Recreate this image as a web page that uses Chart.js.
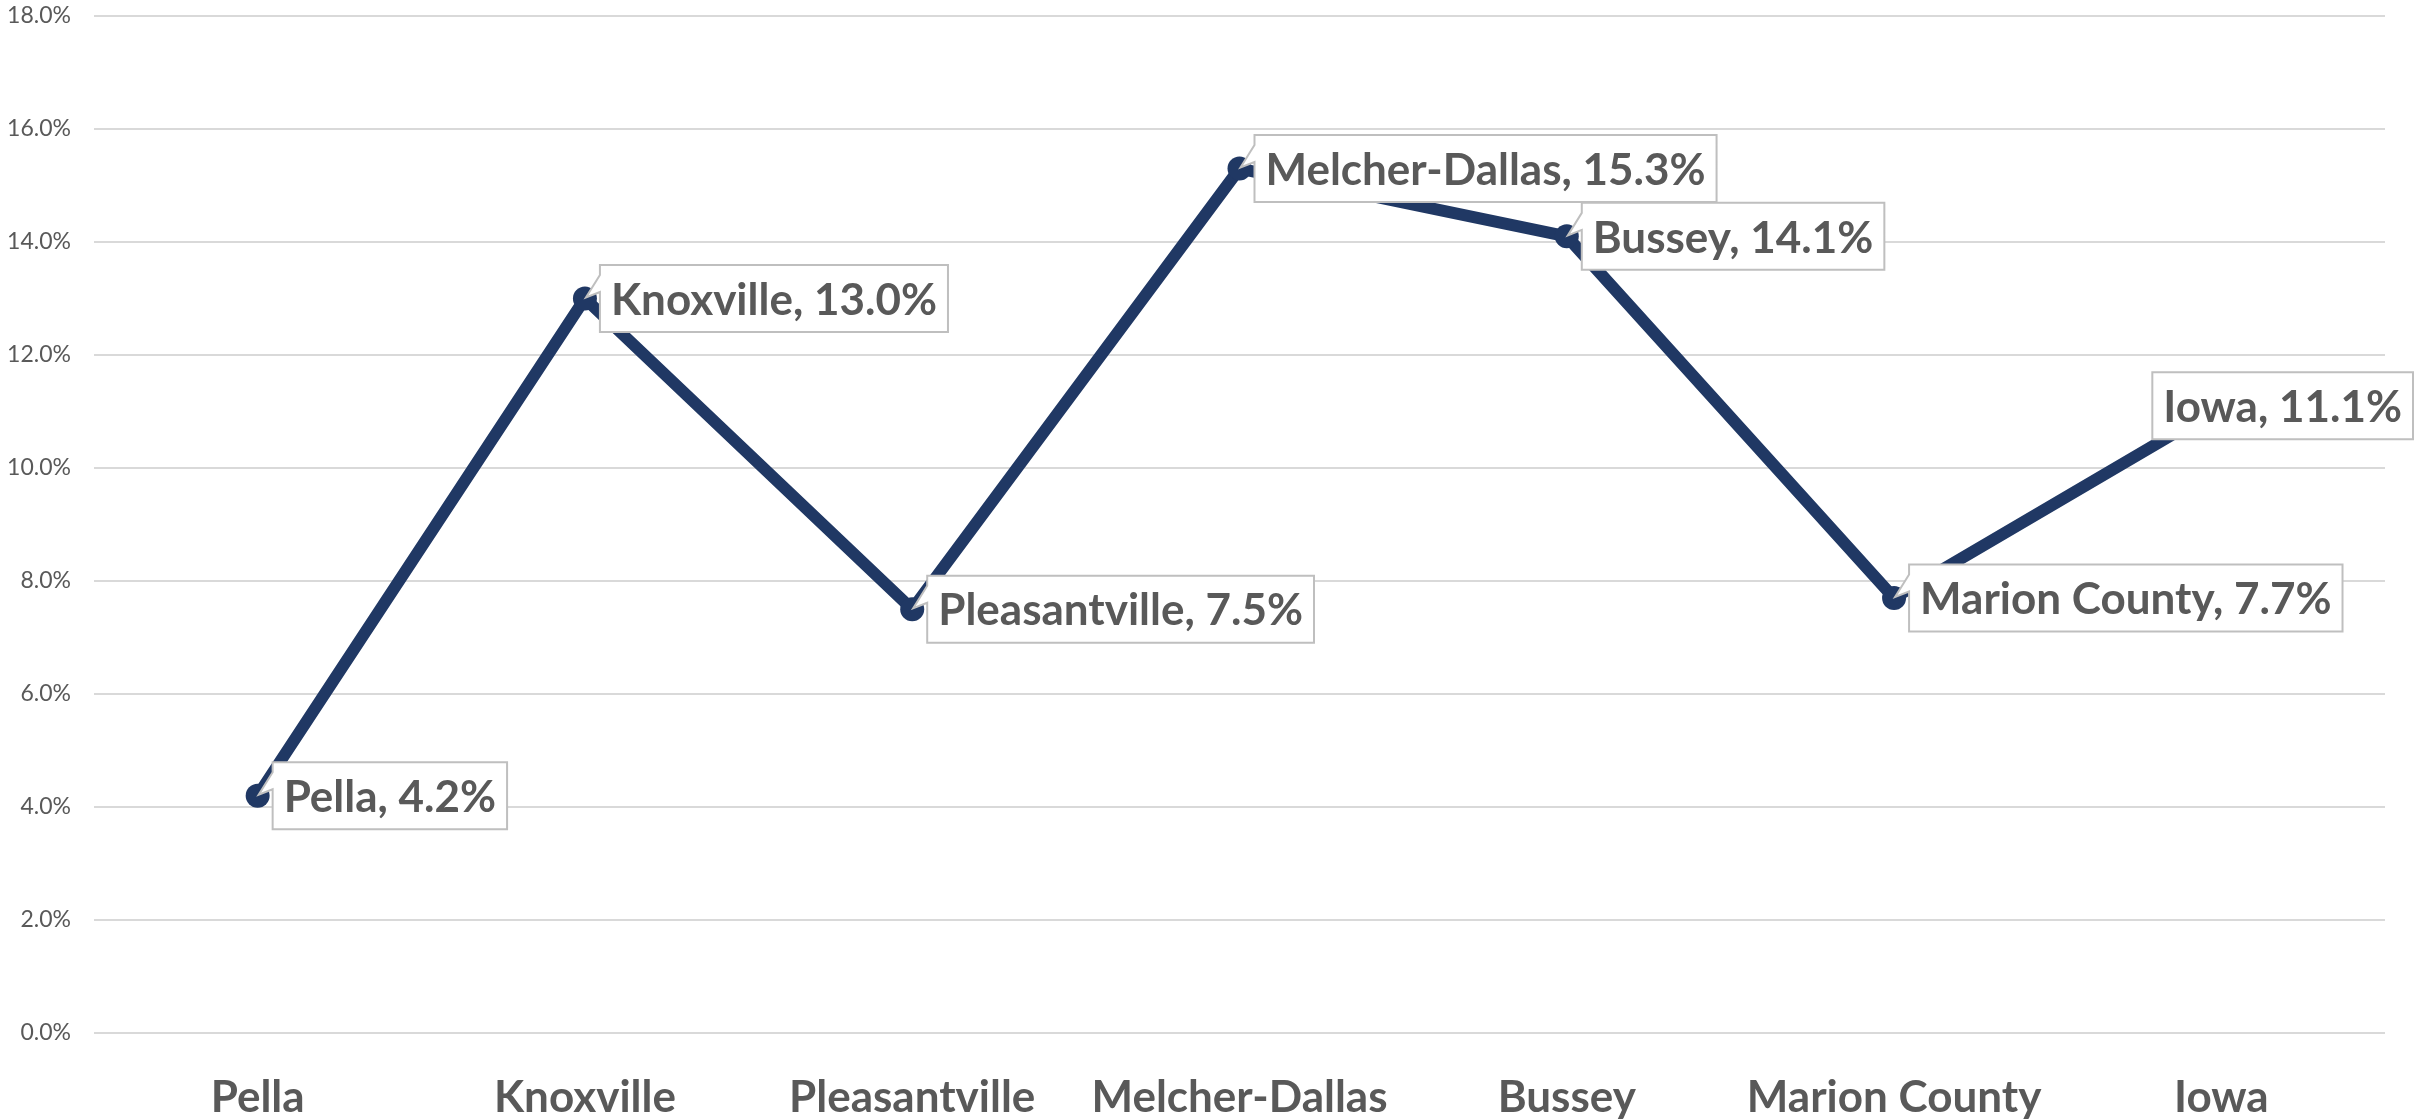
<!DOCTYPE html>
<html>
<head>
<meta charset="utf-8">
<script src="https://cdn.jsdelivr.net/npm/chart.js@4"></script>
<style>
  html, body { margin: 0; padding: 0; background: #fff; }
  #rateChart { display: block; }
</style>
</head>
<body>
<canvas id="rateChart" width="2425" height="1119"></canvas>
<script>
// Rate by place
const places = ['Pella', 'Knoxville', 'Pleasantville', 'Melcher-Dallas', 'Bussey', 'Marion County', 'Iowa'];
const rates = [4.2, 13.0, 7.5, 15.3, 14.1, 7.7, 11.1];
const yTicks = [0, 2, 4, 6, 8, 10, 12, 14, 16, 18];

const navy = '#203864';
const grey = '#595959';
const pct = v => Number(v).toFixed(1) + '%';

// Boxed callout labels "Place, 0.0%" to the right of each point
const calloutLabels = {
  id: 'calloutLabels',
  afterDatasetsDraw(chart) {
    const { ctx } = chart;
    const meta = chart.getDatasetMeta(0);
    const boxH = 67, padX = 11, gap = 15, edge = 12;
    ctx.save();
    ctx.font = 'bold 44px Lato';
    meta.data.forEach((pt, i) => {
      const text = `${places[i]}, ${pct(rates[i])}`;
      const w = ctx.measureText(text).width + padX * 2;
      let x0 = pt.x + gap;
      if (x0 + w > chart.width - edge) x0 = chart.width - edge - w;
      const y0 = pt.y - boxH / 2;

      ctx.beginPath();
      ctx.moveTo(x0, y0);
      ctx.lineTo(x0 + w, y0);
      ctx.lineTo(x0 + w, y0 + boxH);
      ctx.lineTo(x0, y0 + boxH);
      if (x0 > pt.x) {
        ctx.lineTo(x0, y0 + 27);
        ctx.lineTo(pt.x + 1, pt.y - 1);
        ctx.lineTo(x0, y0 + 10);
      }
      ctx.closePath();
      ctx.fillStyle = '#ffffff';
      ctx.fill();
      ctx.lineWidth = 2;
      ctx.strokeStyle = '#bfbfbf';
      ctx.stroke();

      ctx.fillStyle = grey;
      ctx.textAlign = 'left';
      ctx.textBaseline = 'middle';
      ctx.fillText(text, x0 + padX, pt.y + 2);
    });
    ctx.restore();
  }
};

new Chart(document.getElementById('rateChart'), {
  type: 'line',
  data: {
    labels: places,
    datasets: [{
      data: rates,
      borderColor: navy,
      backgroundColor: navy,
      borderWidth: 12,
      borderJoinStyle: 'round',
      borderCapStyle: 'round',
      tension: 0,
      pointRadius: 12,
      pointBorderWidth: 0,
      pointBackgroundColor: navy
    }]
  },
  options: {
    responsive: false,
    devicePixelRatio: 1,
    animation: false,
    layout: { padding: { top: 16, right: 40, left: 0, bottom: 0 } },
    plugins: { legend: { display: false }, tooltip: { enabled: false } },
    scales: {
      x: {
        offset: true,
        grid: { display: false },
        border: { display: false },
        ticks: { color: grey, font: { family: 'Lato', size: 44, weight: 'bold' }, padding: 30, maxRotation: 0 },
        afterFit: s => { s.height = 86; }
      },
      y: {
        min: 0, max: 18,
        afterBuildTicks: s => { s.ticks = yTicks.map(v => ({ value: v })); },
        grid: { color: '#d9d9d9', lineWidth: 2, drawTicks: false },
        border: { display: false },
        ticks: { color: grey, font: { family: 'Lato', size: 23 }, padding: 23, callback: v => pct(v) },
        afterFit: s => { s.width = 94; s.paddingTop = 0; s.paddingBottom = 0; }
      }
    }
  },
  plugins: [calloutLabels]
});
</script>
</body>
</html>
